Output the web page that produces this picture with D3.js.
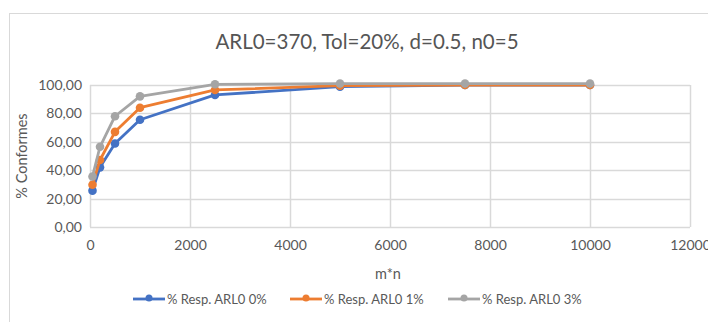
<!DOCTYPE html>
<html><head><meta charset="utf-8">
<script src="https://cdn.jsdelivr.net/npm/d3@7"></script>
<style>body{margin:0;background:#fff}svg{display:block;font-family:Lato,"Open Sans",sans-serif}</style>
</head><body><div id="chart"></div>
<script>
const title = "ARL0=370, Tol=20%, d=0.5, n0=5";
const xValues = [50, 200, 500, 1000, 2500, 5000, 7500, 10000];
const seriesNames = ["% Resp. ARL0 0%", "% Resp. ARL0 1%", "% Resp. ARL0 3%"];
const resp0 = [25.6, 42, 58.8, 75.5, 93, 98.8, 100, 100];
const resp1 = [29.8, 47.2, 67, 84, 96.5, 99.5, 100, 100];
const resp3 = [35.6, 56.5, 78, 92, 100.5, 101, 101, 101];
const colors = ["#4472C4", "#ED7D31", "#A5A5A5"];
const xTicks = [0, 2000, 4000, 6000, 8000, 10000, 12000];
const yTicks = [0, 20, 40, 60, 80, 100];
const xLabel = "m*n", yLabel = "% Conformes";

const W = 708, H = 322;
const svg = d3.select("#chart").append("svg").attr("width", W).attr("height", H);
svg.append("rect").attr("x", 9.5).attr("y", 13.5).attr("width", 760).attr("height", 400)
  .attr("fill", "#fff").attr("stroke", "#d9d9d9");

const x = d3.scaleLinear().domain([0, 12000]).range([90, 690]);
const y = d3.scaleLinear().domain([0, 100]).range([227, 85]);

svg.append("text").attr("x", 367).attr("y", 49).attr("text-anchor", "middle")
  .attr("font-size", 20.5).attr("fill", "#555").text(title);

// gridlines
svg.append("g").selectAll("line").data(yTicks).join("line")
  .attr("x1", x(0)).attr("x2", x(12000)).attr("y1", d => Math.round(y(d)) + 0.5).attr("y2", d => Math.round(y(d)) + 0.5)
  .attr("stroke", "#d9d9d9").attr("stroke-width", 1.5);
svg.append("g").selectAll("line").data(xTicks).join("line")
  .attr("y1", y(0)).attr("y2", y(100)).attr("x1", d => Math.round(x(d)) + 0.5).attr("x2", d => Math.round(x(d)) + 0.5)
  .attr("stroke", "#d9d9d9").attr("stroke-width", 1.5);

const fmt = d => d3.format(".2f")(d).replace(".", ",");
const yAxis = svg.append("g").attr("transform", `translate(${x(0)},0)`)
  .call(d3.axisLeft(y).tickValues(yTicks).tickFormat(fmt).tickSize(0).tickPadding(8));
yAxis.select(".domain").remove();
yAxis.selectAll("text").attr("font-size", 14).attr("fill", "#595959").attr("font-family", "Lato,sans-serif");

const xAxis = svg.append("g").attr("transform", `translate(0,${y(0)})`)
  .call(d3.axisBottom(x).tickValues(xTicks).tickFormat(d3.format("d")).tickSize(0).tickPadding(13));
xAxis.select(".domain").remove();
xAxis.selectAll("text").attr("font-size", 14).attr("fill", "#595959").attr("font-family", "Lato,sans-serif");

svg.append("text").attr("x", 388).attr("y", 279).attr("text-anchor", "middle")
  .attr("font-size", 14.5).attr("fill", "#595959").text(xLabel);
svg.append("text").attr("transform", "translate(27,156) rotate(-90)").attr("text-anchor", "middle")
  .attr("font-size", 14.5).attr("fill", "#595959").text(yLabel);

const data = [resp0, resp1, resp3];
const line = d3.line().x((d, i) => x(xValues[i])).y(d => y(d));
data.forEach((s, k) => {
  const g = svg.append("g");
  g.append("path").datum(s).attr("d", line).attr("fill", "none")
    .attr("stroke", colors[k]).attr("stroke-width", 2.8).attr("stroke-linejoin", "round");
  g.selectAll("circle").data(s).join("circle")
    .attr("cx", (d, i) => x(xValues[i])).attr("cy", d => y(d)).attr("r", 4.3)
    .attr("fill", colors[k]);
});

// legend
const legX = [133, 290, 448];
seriesNames.forEach((n, k) => {
  const g = svg.append("g").attr("transform", `translate(${legX[k]},299)`);
  g.append("line").attr("x1", 0).attr("x2", 32).attr("stroke", colors[k]).attr("stroke-width", 2.8);
  g.append("circle").attr("cx", 16).attr("cy", -1).attr("r", 3.5).attr("fill", colors[k]);
  g.append("text").attr("x", 34).attr("y", 4.5).attr("font-size", 13).attr("fill", "#595959").text(n);
});
</script></body></html>
